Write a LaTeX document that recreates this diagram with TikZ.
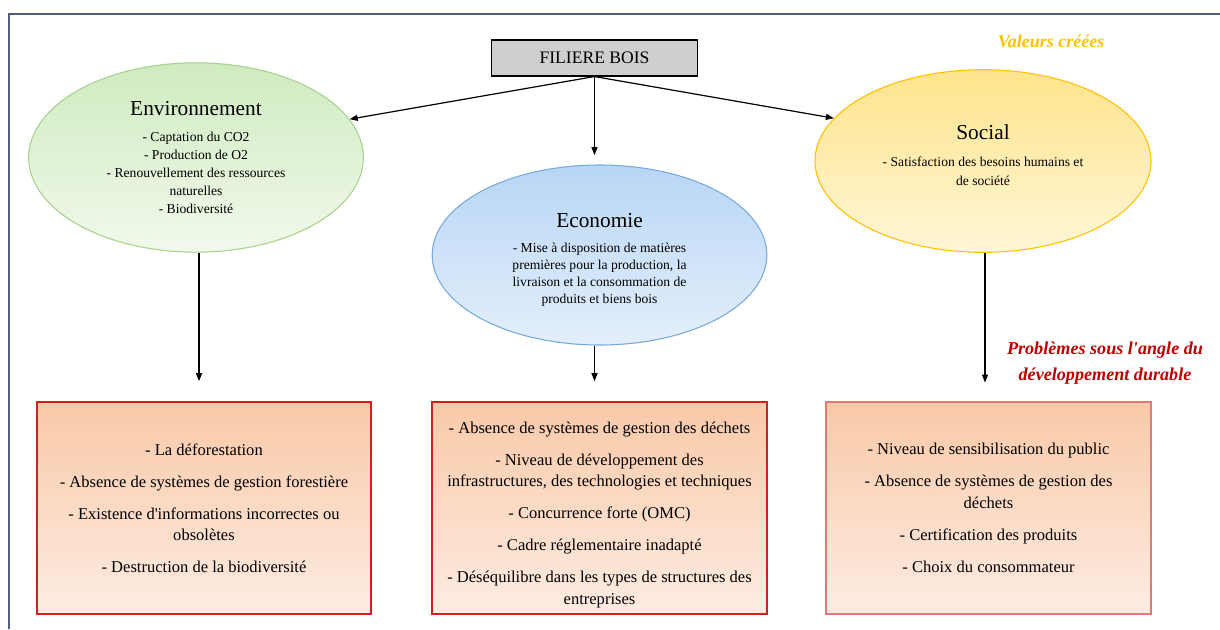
\documentclass[tikz,border=0pt]{standalone}
\usepackage{fontspec}
\setmainfont{Liberation Serif}
\usetikzlibrary{shapes.geometric,arrows.meta,calc}
\definecolor{frame}{RGB}{79,95,127}
\definecolor{fbgray}{RGB}{208,206,206}
\definecolor{gold}{RGB}{255,192,0}
\definecolor{dred}{RGB}{192,0,0}
\definecolor{envT}{RGB}{208,235,192}
\definecolor{envB}{RGB}{241,249,236}
\definecolor{envD}{RGB}{169,209,142}
\definecolor{ecoT}{RGB}{184,214,245}
\definecolor{ecoB}{RGB}{228,239,251}
\definecolor{ecoD}{RGB}{120,170,222}
\definecolor{socT}{RGB}{255,228,140}
\definecolor{socB}{RGB}{255,246,214}
\definecolor{socD}{RGB}{255,192,0}
\definecolor{boxT}{RGB}{249,201,168}
\definecolor{boxB}{RGB}{253,236,226}
\definecolor{boxD}{RGB}{208,32,32}
\definecolor{boxDl}{RGB}{226,120,120}
\newcommand{\q}{\textquotesingle}
\tikzset{
  ell/.style={ellipse, inner sep=0pt, align=center, font=\fontsize{10.2}{13.5}\selectfont, line width=0.8pt},
  prob/.style={rectangle, inner sep=0pt, align=center, minimum height=159pt,
     top color=boxT, bottom color=boxB, draw=boxD, line width=1.2pt,
     font=\fontsize{12.4}{16}\selectfont},
  arr/.style={-{Triangle[length=6pt,width=4.5pt]}, line width=0.9pt, black}
}
\newcommand{\ttlx}[1]{{\fontsize{16}{18}\selectfont #1}\\[6pt]}
\begin{document}
\begin{tikzpicture}[x=0.75pt,y=-0.75pt]
\useasboundingbox (0,0) rectangle (1220,629);
% frame
\draw[frame, line width=2.2pt] (9,629) -- (9,14) -- (1222,14);

\node[draw=black, fill=fbgray, minimum width=155pt, minimum height=27pt, inner sep=0pt, line width=0.8pt,
  font=\fontsize{13.2}{14}\selectfont] (fb) at (594.5,58) {FILIERE BOIS};

\node[text=gold, font=\fontsize{13.5}{15}\selectfont\bfseries\itshape] (val) at (1051,41) {Valeurs créées};

\node[ell, minimum width=251pt, minimum height=142pt, top color=envT, bottom color=envB, draw=envD] (env) at (196,157.5)
 {\ttlx{Environnement}- Captation du CO2\\- Production de O2\\- Renouvellement des ressources\\naturelles\\- Biodiversité};

\node[ell, minimum width=251pt, minimum height=135pt, top color=ecoT, bottom color=ecoB, draw=ecoD,
  font=\fontsize{10.2}{12.75}\selectfont] (eco) at (599.5,255)
 {\mbox{}\\[5pt]\ttlx{Economie}- Mise à disposition de matières\\premières pour la production, la\\livraison et la consommation de\\produits et biens bois};

\node[ell, minimum width=252pt, minimum height=137pt, top color=socT, bottom color=socB, draw=socD,
  font=\fontsize{10.2}{14.25}\selectfont] (soc) at (983,161)
 {\ttlx{Social}- Satisfaction des besoins humains et\\de société\\[-6pt]\mbox{}};

\node[text=dred, align=center, font=\fontsize{13.6}{19}\selectfont\bfseries\itshape] (pb) at (1105,363)
 {Problèmes sous l\q angle du\\développement durable};

\node[prob, minimum width=250.5pt] (b1) at (204,508)
 {- La déforestation\\[8pt]- Absence de systèmes de gestion forestière\\[8pt]- Existence d\q informations incorrectes ou\\obsolètes\\[8pt]- Destruction de la biodiversité};

\node[prob, minimum width=251pt] (b2) at (599.5,508)
 {\mbox{}\\[3pt]- Absence de systèmes de gestion des déchets\\[8pt]- Niveau de développement des\\infrastructures, des technologies et techniques\\[8pt]- Concurrence forte (OMC)\\[8pt]- Cadre réglementaire inadapté\\[8pt]- Déséquilibre dans les types de structures des\\entreprises};

\node[prob, minimum width=244pt, draw=boxDl] (b3) at (988.5,508)
 {- Niveau de sensibilisation du public\\[8pt]- Absence de systèmes de gestion des\\déchets\\[8pt]- Certification des produits\\[8pt]- Choix du consommateur};

% connectors
\draw[arr] (fb.south) -- (env.14);
\draw[arr] (fb.south) -- (soc.164);
\draw[arr, shorten >=7pt] (fb.south) -- (fb.south |- eco.north);
\draw[arr, shorten >=15pt] (env.south -| 199,0) -- (b1.north -| 199,0);
\draw[arr, shorten >=15pt] (fb.south |- eco.south) -- (fb.south |- b2.north);
\draw[arr, shorten >=14pt] (soc.south -| 985,0) -- (b3.north -| 985,0);
\end{tikzpicture}
\end{document}
